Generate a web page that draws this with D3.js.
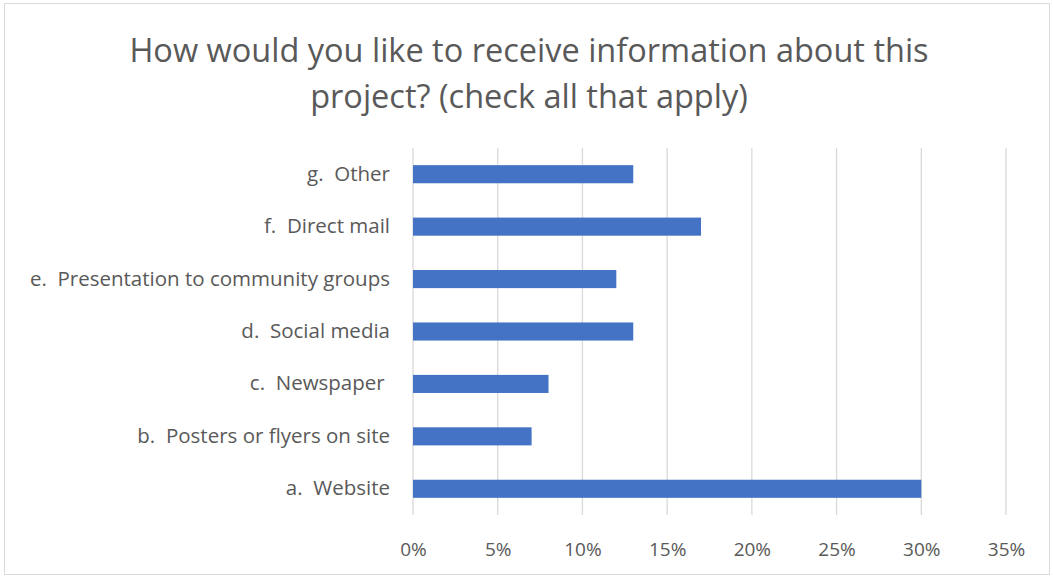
<!DOCTYPE html>
<html>
<head>
<meta charset="utf-8">
<script src="https://cdn.jsdelivr.net/npm/d3@7"></script>
<style>
  body { margin: 0; background: #fff; }
  text { font-family: "Open Sans", sans-serif; fill: #595959; }
</style>
</head>
<body>
<svg id="chart" width="1053" height="577"></svg>
<script>
// categories from top to bottom, as shown
const categories = [
  "g.  Other",
  "f.  Direct mail",
  "e.  Presentation to community groups",
  "d.  Social media",
  "c.  Newspaper ",
  "b.  Posters or flyers on site",
  "a.  Website"
];
const values = [0.13, 0.17, 0.12, 0.13, 0.08, 0.07, 0.30];
const xTicks = [0, 0.05, 0.10, 0.15, 0.20, 0.25, 0.30, 0.35];
const titleLines = [
  "How would you like to receive information about this",
  "project? (check all that apply)"
];

const svg = d3.select("#chart");
const W = 1053, H = 577;

// chart border
svg.append("rect")
  .attr("x", 4.5).attr("y", 3.5)
  .attr("width", W - 8).attr("height", H - 6)
  .attr("fill", "#fff")
  .attr("stroke", "#d9d9d9");

const plotL = 413, plotR = 1006, plotT = 148, plotB = 515;

const x = d3.scaleLinear().domain([0, 0.35]).range([plotL, plotR]);
const y = d3.scaleBand().domain(categories).range([plotT, plotB]).paddingInner(0.655).paddingOuter(0.3275);

// title
svg.append("g").selectAll("text")
  .data(titleLines)
  .enter().append("text")
  .attr("x", 529)
  .attr("y", (d, i) => 62 + i * 46)
  .attr("text-anchor", "middle")
  .style("font-size", "32.5px")
  .text(d => d);

// gridlines
svg.append("g").selectAll("line")
  .data(xTicks)
  .enter().append("line")
  .attr("x1", d => x(d)).attr("x2", d => x(d))
  .attr("y1", plotT).attr("y2", plotB)
  .attr("stroke", "#d9d9d9")
  .attr("stroke-width", 1.3);

// bars
svg.append("g").selectAll("rect")
  .data(categories)
  .enter().append("rect")
  .attr("x", x(0))
  .attr("y", d => y(d))
  .attr("width", (d, i) => x(values[i]) - x(0))
  .attr("height", y.bandwidth())
  .attr("fill", "#4472c4");

// x axis labels
const xAxis = d3.axisBottom(x).tickValues(xTicks).tickFormat(d3.format(".0%")).tickSize(0).tickPadding(0);
const gx = svg.append("g").attr("transform", `translate(0,${plotB + 27})`).call(xAxis);
gx.select(".domain").remove();
gx.selectAll("text").style("font-size", "19px").attr("fill", "#595959").attr("dy", "0.71em");

// y axis labels
const yAxis = d3.axisLeft(y).tickSize(0).tickPadding(23);
const gy = svg.append("g").attr("transform", `translate(${plotL},0)`).call(yAxis);
gy.select(".domain").remove();
gy.selectAll("text").style("font-size", "20.5px").attr("fill", "#595959").style("white-space", "pre");
</script>
</body>
</html>
